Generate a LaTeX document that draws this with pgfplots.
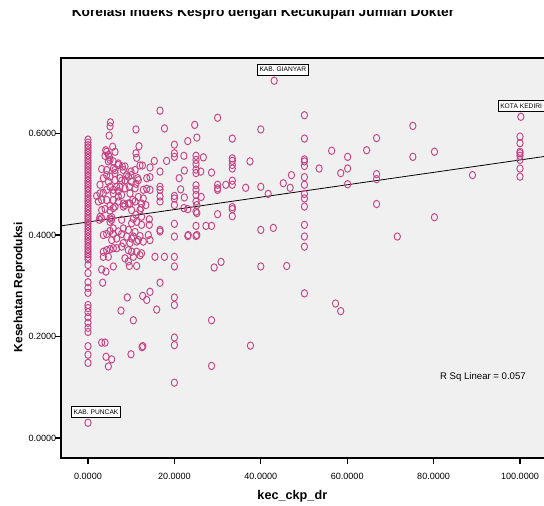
\documentclass[border=0pt]{standalone}
\usepackage{pgfplots}
\pgfplotsset{compat=1.18}
\usepackage{fontspec}
\setmainfont{Liberation Sans}
\definecolor{ptc}{RGB}{196,68,132}
\definecolor{bgc}{RGB}{240,240,240}
\pgfplotstableread{
x y
0 0.588
0 0.582
0 0.577
0 0.572
0 0.567
0 0.562
0 0.557
0 0.552
0 0.547
0 0.542
0 0.537
0 0.532
0 0.527
0 0.522
0 0.517
0 0.512
0 0.507
0 0.502
0 0.497
0 0.492
0 0.487
0 0.482
0 0.477
0 0.472
0 0.467
0 0.462
0 0.457
0 0.452
0 0.447
0 0.442
0 0.437
0 0.432
0 0.427
0 0.422
0 0.417
0 0.412
0 0.407
0 0.402
0 0.397
0 0.392
0 0.387
0 0.382
0 0.377
0 0.372
0 0.367
0 0.362
0 0.357
0 0.352
0 0.341
0 0.325
0 0.307
0 0.296
0 0.286
0 0.262
0 0.256
0 0.248
0 0.238
0 0.227
0 0.217
0 0.209
0 0.181
0 0.164
0 0.148
0 0.030
5.2 0.622
5.1 0.614
4.9 0.596
11.1 0.608
16.67 0.645
17.7 0.610
24.7 0.617
25.2 0.592
23.1 0.585
20 0.578
20 0.561
20 0.554
11.8 0.575
11.1 0.561
4.09 0.567
4.32 0.564
6.25 0.564
5.71 0.574
4.94 0.554
5.09 0.548
4.71 0.545
5.86 0.545
3.16 0.530
4.32 0.528
5.86 0.531
7.02 0.538
6.25 0.522
4.32 0.518
5.09 0.515
3.55 0.512
4.71 0.505
6.25 0.508
7.41 0.512
8.56 0.508
9.57 0.495
8.18 0.528
8.95 0.518
9.95 0.525
9.95 0.518
7.95 0.535
5.09 0.495
4.32 0.489
3.55 0.483
2.78 0.482
2.0 0.477
5.86 0.489
7.02 0.486
7.41 0.495
3.16 0.469
4.32 0.469
5.86 0.469
7.02 0.476
8.18 0.462
8.56 0.459
9.72 0.462
10.33 0.469
12.8 0.472
5.09 0.457
5.86 0.453
6.25 0.456
3.16 0.449
3.94 0.451
5.09 0.448
3.16 0.433
5.48 0.435
8.18 0.456
10.1 0.449
11.1 0.440
12.27 0.453
12.42 0.462
13.4 0.459
11.5 0.512
11.1 0.501
12.8 0.489
13.6 0.491
14.35 0.489
12.04 0.537
12.6 0.537
14.35 0.533
15.35 0.546
16.67 0.525
18.2 0.546
22.3 0.527
21.1 0.512
13.6 0.512
14.35 0.514
21.45 0.490
22.3 0.474
22.2 0.453
25.2 0.459
25.2 0.443
16.67 0.495
16.67 0.489
16.67 0.476
16.67 0.466
20 0.477
20 0.472
20 0.459
4.71 0.558
3.94 0.556
7.02 0.541
8.56 0.535
6.25 0.528
9.34 0.515
7.79 0.507
10.1 0.505
11.65 0.508
2.78 0.499
6.64 0.495
8.56 0.492
10.9 0.492
5.86 0.482
7.79 0.479
9.72 0.482
11.65 0.475
2.4 0.466
7.02 0.466
9.34 0.462
10.9 0.466
12.04 0.449
2.78 0.436
5.09 0.433
7.79 0.430
10.5 0.432
12.4 0.436
11.27 0.552
10.9 0.528
2.63 0.430
5.09 0.426
5.48 0.430
10.1 0.423
11.27 0.426
12.4 0.420
14.2 0.431
14.2 0.420
16.67 0.410
16.67 0.407
20 0.422
20 0.397
23.2 0.400
25.2 0.400
3.55 0.400
4.32 0.402
5.09 0.408
5.86 0.402
7.02 0.407
7.79 0.402
8.95 0.397
10.5 0.397
12.04 0.398
13.97 0.400
8.18 0.384
9.72 0.384
11.27 0.387
12.8 0.387
14.35 0.390
3.55 0.367
4.32 0.370
5.09 0.372
5.86 0.374
6.64 0.374
7.79 0.377
9.34 0.370
10.1 0.367
11.27 0.367
12.4 0.364
3.55 0.357
4.71 0.357
8.56 0.354
10.5 0.357
12.04 0.360
15.5 0.357
17.7 0.357
20 0.357
20 0.338
3.16 0.332
4.17 0.328
5.86 0.338
9.57 0.339
11.27 0.339
3.4 0.306
16.67 0.306
14.35 0.288
12.65 0.280
13.6 0.272
9.1 0.277
20 0.277
20 0.262
7.64 0.251
15.9 0.253
10.5 0.232
5.86 0.413
8.18 0.413
9.34 0.410
10.9 0.406
6.64 0.393
10.1 0.393
11.65 0.390
5.48 0.390
9.34 0.348
3.16 0.188
3.94 0.188
4.17 0.160
5.48 0.155
4.71 0.141
9.95 0.165
12.5 0.179
12.7 0.181
20 0.198
20 0.183
20 0.109
43.1 0.704
30.0 0.631
40.0 0.608
50.1 0.636
33.4 0.590
50.1 0.590
22.2 0.556
25 0.556
25 0.548
25 0.540
25 0.529
25 0.522
26.7 0.553
26.1 0.525
28.6 0.523
33.4 0.551
33.4 0.546
33.4 0.538
33.4 0.531
33.4 0.507
33.4 0.499
31.9 0.499
30.0 0.499
30.0 0.492
37.5 0.545
36.5 0.493
40.0 0.495
41.7 0.481
45.2 0.502
47.1 0.518
46.8 0.493
50.1 0.549
50.1 0.545
50.1 0.536
50.1 0.514
50.1 0.499
50.1 0.481
50.1 0.472
50.1 0.456
50.1 0.420
50.1 0.397
50.1 0.377
50.1 0.285
53.5 0.531
56.4 0.566
58.5 0.522
25 0.498
25 0.489
25 0.479
25 0.466
25 0.446
26.2 0.475
23.1 0.451
30 0.489
30 0.441
33.4 0.455
33.4 0.451
33.4 0.437
25 0.418
27.3 0.418
28.6 0.418
23.1 0.398
25 0.398
40 0.410
42.9 0.414
29.2 0.336
30.8 0.347
40 0.338
46 0.339
57.3 0.265
58.5 0.250
28.6 0.232
37.6 0.182
28.6 0.142
100.2 0.633
100 0.594
100 0.581
100 0.564
100 0.561
100 0.556
100 0.548
100 0.531
100 0.515
75.2 0.615
66.8 0.591
64.5 0.567
60.1 0.554
60.1 0.531
60.1 0.500
75.2 0.554
80.2 0.564
66.8 0.520
66.8 0.510
89.0 0.518
66.8 0.461
80.2 0.435
71.6 0.397
}\pts
\begin{document}
\begin{tikzpicture}
\begin{axis}[
  at={(0,0)}, anchor=south west,
  scale only axis, width=364.5pt, height=300pt,
  xmin=-6.25, xmax=106.25, ymin=-0.0394, ymax=0.7488,
  axis background/.style={fill=bgc},
  axis line style={black, line width=0.9pt},
  xtick={0,20,40,60,80,100}, ytick={0,0.2,0.4,0.6},
  xtick pos=lower, ytick pos=left,
  tick align=outside, major tick length=4.5pt,
  tick style={black, line width=0.8pt},
  /pgf/number format/fixed,
  /pgf/number format/fixed zerofill,
  /pgf/number format/precision=4,
  /pgf/number format/assume math mode=true,
  tick label style={font=\fontsize{6.8}{8}\selectfont},
  xticklabel style={yshift=-3pt},
  yticklabel style={xshift=4.5pt},
  clip=false,
]
\addplot[only marks, mark=o, mark size=2.35pt, color=ptc,
  mark options={line width=0.7pt, yscale=1.18}] table[x=x,y=y] {\pts};
\addplot[black, line width=0.6pt] coordinates {(-6.25,0.418) (106.25,0.5555)};
\node[draw=black, fill=white, line width=0.5pt, font=\fontsize{5}{6}\selectfont, inner sep=1.5pt, minimum height=8pt] at (axis cs:45.1,0.726) {KAB. GIANYAR};
\node[draw=black, fill=white, line width=0.5pt, font=\fontsize{5}{6}\selectfont, inner sep=1.5pt, minimum height=8pt, anchor=west] at (axis cs:94.9,0.654) {KOTA KEDIRI};
\node[draw=black, fill=white, line width=0.5pt, font=\fontsize{5}{6}\selectfont, inner sep=1.5pt, minimum height=8pt] at (axis cs:1.85,0.051) {KAB. PUNCAK};
\node[anchor=east, inner sep=0pt, font=\fontsize{7.2}{9}\selectfont] at (axis cs:101.4,0.120) {R Sq Linear = 0.057};
\node[anchor=base, font=\bfseries\fontsize{10.3}{12}\selectfont] at (axis cs:40.5,0.8296) {Korelasi Indeks Kespro dengan Kecukupan Jumlah Dokter};
\fill[white] (axis cs:-30,0.8433) rectangle (axis cs:120,0.95);
\node[anchor=base, font=\bfseries\fontsize{9.5}{11}\selectfont] at (axis cs:47.3,-0.122) {kec\_ckp\_dr};
\node[rotate=90, font=\bfseries\fontsize{9}{11}\selectfont] at (axis cs:-15.9,0.2975) {Kesehatan Reproduksi};
\end{axis}
\pgfresetboundingbox
\useasboundingbox (-45.75pt,-36pt) rectangle (362.25pt,343.5pt);
\end{tikzpicture}
\end{document}
